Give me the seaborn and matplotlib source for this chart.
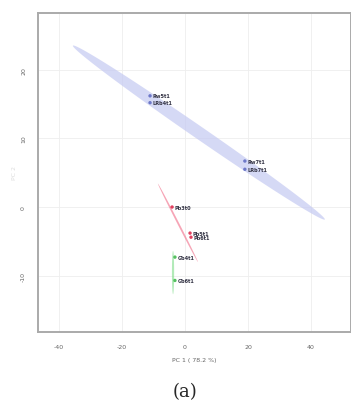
import matplotlib

matplotlib.use("Agg")
import matplotlib.pyplot as plt
import numpy as np
import pandas as pd
import seaborn as sns

# sample scores on PC1 / PC2
samples = ["Rw5t1", "LRb4t1", "Rw7t1", "LRb7t1", "Pb3t0", "Pb5t1", "Pb6t1", "Gb4t1", "Gb6t1"]
groups = ["blue", "blue", "blue", "blue", "red", "red", "red", "green", "green"]
pc1 = [-11.1, -11.1, 19.0, 19.0, -4.1, 1.6, 1.9, -3.2, -3.2]
pc2 = [16.2, 15.2, 6.7, 5.5, 0.0, -3.8, -4.4, -7.3, -10.7]

# confidence ellipses: end points of the long axis and half thickness (PC2 units)
ell_groups = ["blue", "red", "green"]
ell_x0 = [-35.6, -8.6, -3.8]
ell_y0 = [23.5, 3.4, -6.4]
ell_x1 = [44.4, 4.1, -3.8]
ell_y1 = [-1.8, -8.0, -12.7]
ell_half = [1.0, 0.2, 0.0]
ell_halfx = [0.3, 0.1, 0.35]

colors = {"blue": "#c4c9f2", "red": "#f06a86", "green": "#7fdc8a"}
point_colors = {"blue": "#6d78c8", "red": "#e0405f", "green": "#55c060"}

x_ticks = [-40, -20, 0, 20, 40]
y_ticks = [-10, 0, 10, 20]

df = pd.DataFrame({"sample": samples, "group": groups, "PC1": pc1, "PC2": pc2})

sns.set_style("whitegrid")
fig = plt.figure(figsize=(3.51, 4.06), dpi=100)
ax = fig.add_axes([0.108, 0.180, 0.892, 0.786])

t = np.linspace(0, 2 * np.pi, 200)
for g, x0, y0, x1, y1, h, hx in zip(ell_groups, ell_x0, ell_y0, ell_x1, ell_y1,
                                    ell_half, ell_halfx):
    cx, cy = (x0 + x1) / 2, (y0 + y1) / 2
    ux, uy = (x1 - x0) / 2, (y1 - y0) / 2
    ex = cx + ux * np.cos(t) + hx * np.sin(t)
    ey = cy + uy * np.cos(t) + h * np.sin(t)
    alpha = 0.7 if g == "blue" else 0.6
    ax.fill(ex, ey, color=colors[g], alpha=alpha, lw=0, zorder=1)

sns.scatterplot(data=df, x="PC1", y="PC2", hue="group", palette=point_colors,
                s=6, marker="o", legend=False, ax=ax, zorder=3, edgecolor="none")
for _, r in df.iterrows():
    ax.text(r["PC1"] + 0.8, r["PC2"], r["sample"], fontsize=3.6, color="#333344",
            va="center", ha="left", fontweight="bold", zorder=4)

ax.set_xlim(-46.7, 52.7)
ax.set_ylim(-18.2, 28.3)
ax.set_xticks(x_ticks)
ax.set_yticks(y_ticks)
ax.set_xticklabels([str(v) for v in x_ticks], fontsize=4.5, color="#666666")
ax.set_yticklabels([str(v) for v in y_ticks], fontsize=4.5, color="#666666",
                   rotation=90, va="center")
ax.tick_params(axis="both", length=2.5, width=0.8, color="#999999", pad=6)
ax.grid(color="#eeeeee", linewidth=0.6)
ax.set_xlabel("PC 1 ( 78.2 %)", fontsize=4.5, color="#666666", labelpad=6)
ax.set_ylabel("PC 2", fontsize=4.5, color="#dddddd", labelpad=3)
for side in ["left", "bottom", "top", "right"]:
    ax.spines[side].set_visible(True)
    ax.spines[side].set_color("#aaaaaa")
    ax.spines[side].set_linewidth(1.4)

fig.text(0.527, 0.035, "(a)", fontsize=13, family="DejaVu Serif", ha="center", va="center")

fig.savefig("out.png", dpi=100)
